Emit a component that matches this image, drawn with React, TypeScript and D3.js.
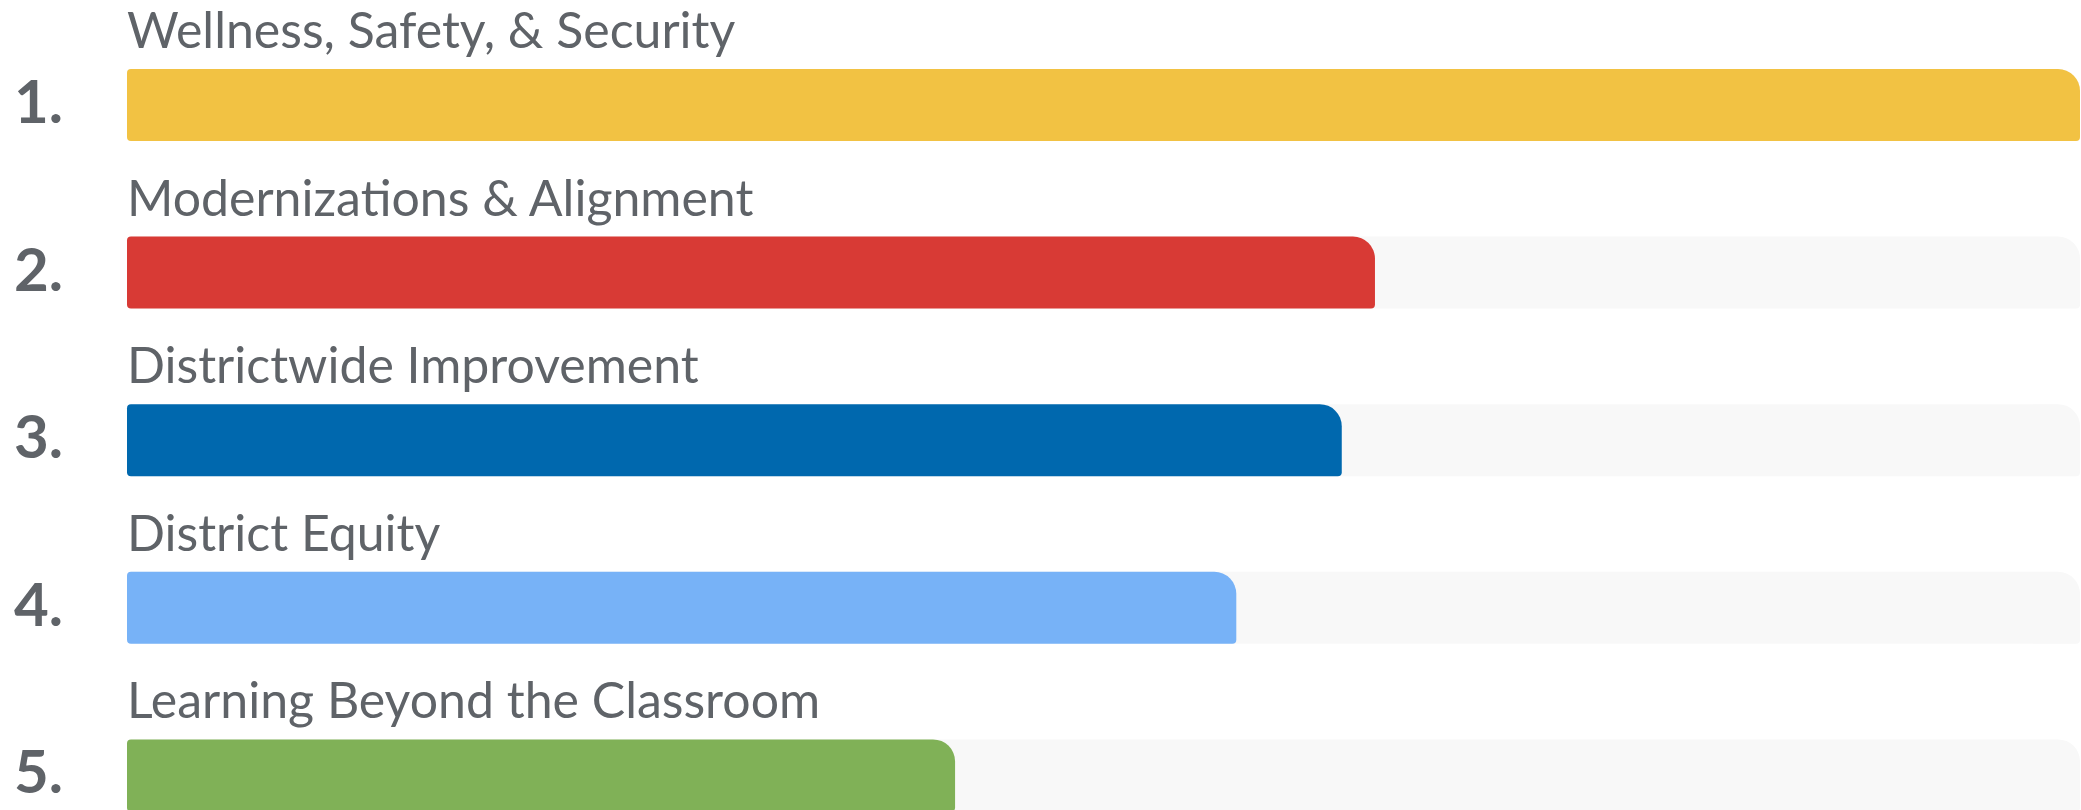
import React from "react";
import * as d3 from "d3";

const categories = [
  "Wellness, Safety, & Security",
  "Modernizations & Alignment",
  "Districtwide Improvement",
  "District Equity",
  "Learning Beyond the Classroom",
];
const ranks = ["1.", "2.", "3.", "4.", "5."];
const values = [100, 63.9, 62.2, 56.8, 42.4];
const colors = ["#F2C243", "#D83A35", "#0068AE", "#77B2F7", "#80B157"];

const W = 2081;
const H = 810;
const BAR_LEFT = 127;
const BAR_RIGHT = 2080;
const BAR_H = 72;
const FIRST_TOP = 69;
const PITCH = 167.6;

function barPath(x0: number, x1: number, y0: number, h: number, rBig: number, rSmall: number) {
  const w = x1 - x0;
  const rb = Math.min(rBig, w / 2, h / 2);
  const rs = Math.min(rSmall, w / 2);
  const p = d3.path();
  p.moveTo(x0 + rs, y0);
  p.lineTo(x1 - rb, y0);
  p.arcTo(x1, y0, x1, y0 + rb, rb);
  p.lineTo(x1, y0 + h - rs);
  p.arcTo(x1, y0 + h, x1 - rs, y0 + h, rs);
  p.lineTo(x0 + rs, y0 + h);
  p.arcTo(x0, y0 + h, x0, y0 + h - rs, rs);
  p.lineTo(x0, y0 + rs);
  p.arcTo(x0, y0, x0 + rs, y0, rs);
  p.closePath();
  return p.toString();
}

export default function App() {
  const x = d3.scaleLinear().domain([0, 100]).range([BAR_LEFT, BAR_RIGHT]);
  const y = d3
    .scaleLinear()
    .domain([0, 1])
    .range([FIRST_TOP, FIRST_TOP + PITCH]);
  const font = "Lato, 'Open Sans', sans-serif";
  return (
    <div style={{ position: "fixed", left: 0, top: 0, width: W, height: H, background: "#fff" }}>
      <svg width={W} height={H} style={{ display: "block" }}>
        {categories.map((c, i) => {
          const top = y(i);
          return (
            <g key={c}>
              <path d={barPath(x(0), x(100), top, BAR_H, 22, 4)} fill="#F8F8F8" />
              <path d={barPath(x(0), x(values[i]), top, BAR_H, 22, 4)} fill={colors[i]} />
              <text
                x={BAR_LEFT}
                y={top - 21}
                fontFamily={font}
                fontSize={50}
                fill="#5F6368"
              >
                {c}
              </text>
              <text
                x={14}
                y={top + 54}
                fontFamily={font}
                fontSize={60}
                fontWeight={700}
                fill="#5F6368"
              >
                {ranks[i]}
              </text>
            </g>
          );
        })}
      </svg>
    </div>
  );
}
